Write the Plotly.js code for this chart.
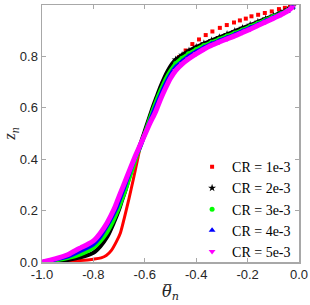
<!DOCTYPE html>
<html><head><meta charset="utf-8">
<script src="https://cdn.plot.ly/plotly-3.0.1.min.js"></script>
<style>html,body{margin:0;padding:0;background:#fff}#chart{width:310px;height:305px}</style>
</head><body><div id="chart"></div>
<script>
// series names
const seriesNames = ['CR = 1e-3', 'CR = 2e-3', 'CR = 3e-3', 'CR = 4e-3', 'CR = 5e-3'];

// CR = 1e-3 (red)
const thetaR = [-1, -0.95, -0.9, -0.85, -0.8, -0.77, -0.75, -0.73, -0.71, -0.695, -0.68, -0.662, -0.645, -0.63, -0.617, -0.6, -0.585, -0.57, -0.555, -0.54, -0.525, -0.51, -0.495, -0.48,
  -0.467, -0.441, -0.415, -0.389, -0.363, -0.337, -0.308, -0.281, -0.253, -0.230, -0.207, -0.185, -0.159, -0.133, -0.106, -0.078, -0.055, -0.035, -0.024];
const zR = [0, 0.001, 0.003, 0.006, 0.011, 0.016, 0.025, 0.045, 0.08, 0.113, 0.17, 0.245, 0.32, 0.39, 0.45, 0.50, 0.548, 0.592, 0.632, 0.668, 0.70, 0.728, 0.755, 0.778,
  0.797, 0.823, 0.848, 0.866, 0.883, 0.897, 0.911, 0.922, 0.932, 0.940, 0.947, 0.956, 0.962, 0.969, 0.975, 0.984, 0.989, 0.993, 0.996];
const upperStartR = 24;

// CR = 2e-3 (black)
const thetaK = [-1, -0.95, -0.9, -0.85, -0.8, -0.773, -0.745, -0.721, -0.7, -0.688, -0.675, -0.66, -0.645, -0.63, -0.617, -0.6, -0.585, -0.57, -0.555, -0.54, -0.525, -0.51, -0.495, -0.48,
  -0.455, -0.428, -0.40, -0.37, -0.34, -0.31, -0.28, -0.25, -0.22, -0.19, -0.16, -0.13, -0.10, -0.07, -0.045, -0.025];
const zK = [0, 0.003, 0.008, 0.018, 0.036, 0.061, 0.1, 0.152, 0.205, 0.242, 0.28, 0.33, 0.38, 0.425, 0.46, 0.51, 0.555, 0.6, 0.64, 0.68, 0.715, 0.745, 0.77, 0.787,
  0.805, 0.822, 0.836, 0.85, 0.862, 0.874, 0.886, 0.898, 0.91, 0.922, 0.934, 0.946, 0.958, 0.97, 0.981, 0.994];
const upperStartK = 23;

// CR = 3e-3 (green)
const thetaG = [-1, -0.95, -0.9, -0.85, -0.8, -0.775, -0.75, -0.725, -0.705, -0.69, -0.675, -0.66, -0.645, -0.63, -0.617, -0.6, -0.58, -0.56, -0.54, -0.52, -0.5, -0.48,
  -0.455, -0.43, -0.40, -0.37, -0.34, -0.31, -0.28, -0.25, -0.22, -0.19, -0.16, -0.13, -0.10, -0.07, -0.045, -0.025];
const zG = [0, 0.006, 0.015, 0.03, 0.055, 0.078, 0.11, 0.155, 0.2, 0.24, 0.28, 0.325, 0.37, 0.415, 0.45, 0.5, 0.56, 0.615, 0.665, 0.71, 0.745, 0.772,
  0.793, 0.81, 0.827, 0.842, 0.855, 0.867, 0.879, 0.891, 0.903, 0.916, 0.929, 0.942, 0.955, 0.967, 0.979, 0.993];
const upperStartG = 21;

// CR = 4e-3 (blue)
const thetaB = [-1, -0.95, -0.9, -0.85, -0.8, -0.775, -0.75, -0.725, -0.71, -0.695, -0.68, -0.66, -0.64, -0.617, -0.6, -0.58, -0.56, -0.54, -0.52, -0.5, -0.48,
  -0.455, -0.43, -0.40, -0.37, -0.34, -0.31, -0.28, -0.25, -0.22, -0.19, -0.16, -0.13, -0.10, -0.07, -0.045, -0.025];
const zB = [0, 0.009, 0.021, 0.043, 0.068, 0.095, 0.135, 0.18, 0.21, 0.25, 0.29, 0.345, 0.40, 0.45, 0.495, 0.548, 0.6, 0.648, 0.692, 0.73, 0.758,
  0.78, 0.80, 0.818, 0.835, 0.849, 0.861, 0.873, 0.885, 0.898, 0.911, 0.924, 0.938, 0.951, 0.965, 0.977, 0.992];
const upperStartB = 20;

// CR = 5e-3 (magenta)
const thetaM = [-1, -0.95, -0.9, -0.877, -0.85, -0.82, -0.8, -0.775, -0.747, -0.72, -0.708, -0.695, -0.682, -0.66, -0.64, -0.62, -0.6, -0.58, -0.558, -0.54, -0.52, -0.5, -0.48,
  -0.455, -0.43, -0.40, -0.37, -0.34, -0.31, -0.28, -0.25, -0.22, -0.19, -0.16, -0.13, -0.10, -0.07, -0.045, -0.025];
const zM = [0, 0.012, 0.028, 0.041, 0.055, 0.07, 0.082, 0.11, 0.152, 0.205, 0.235, 0.268, 0.30, 0.355, 0.405, 0.45, 0.495, 0.54, 0.585, 0.63, 0.675, 0.715, 0.745,
  0.77, 0.79, 0.81, 0.828, 0.843, 0.856, 0.868, 0.88, 0.893, 0.906, 0.92, 0.934, 0.948, 0.962, 0.976, 0.992];
const upperStartM = 22;

const xTickVals = [-1.0, -0.8, -0.6, -0.4, -0.2, 0.0];
const xTickText = ['-1.0', '-0.8', '-0.6', '-0.4', '-0.2', '0.0'];
const yTickVals = [0.0, 0.2, 0.4, 0.6, 0.8, 1.0];
const yTickText = ['0.0', '0.2', '0.4', '0.6', '0.8', '1.0'];

const series = [
  {x: thetaR, y: zR, up: upperStartR, color: '#ff0000', symbol: 'square', size: 4, lw: 3, lineAll: false},
  {x: thetaK, y: zK, up: upperStartK, color: '#000000', symbol: 'star', size: 6, lw: 4, lineAll: true},
  {x: thetaG, y: zG, up: upperStartG, color: '#00ff00', symbol: 'circle', size: 5, lw: 4, lineAll: true},
  {x: thetaB, y: zB, up: upperStartB, color: '#0000ff', symbol: 'triangle-up', size: 6, lw: 4, lineAll: true},
  {x: thetaM, y: zM, up: upperStartM, color: '#ff00ff', symbol: 'triangle-down', size: 6, lw: 5, lineAll: true}
];

const data = [];
series.forEach((s, i) => {
  const lineEnd = s.lineAll ? s.x.length : s.up + 1;
  data.push({
    x: s.x.slice(0, lineEnd), y: s.y.slice(0, lineEnd), mode: 'lines',
    line: {color: s.color, width: s.lw, shape: 'spline', smoothing: 0.8},
    showlegend: false, hoverinfo: 'skip'
  });
  data.push({
    x: s.x.slice(s.up), y: s.y.slice(s.up), mode: 'markers', name: seriesNames[i],
    marker: {color: s.color, symbol: s.symbol, size: s.size, line: {width: 0}}
  });
});

const axisCommon = {
  showline: true, linecolor: '#a8a8a8', linewidth: 1.5, mirror: 'ticks',
  ticks: 'inside', ticklen: 4, tickcolor: '#a8a8a8', tickwidth: 1,
  showgrid: false, zeroline: false,
  tickfont: {family: 'Liberation Sans, Arial, sans-serif', size: 13, color: '#262626'}
};

const layout = {
  width: 310, height: 305,
  margin: {l: 42, r: 11, t: 5, b: 43},
  paper_bgcolor: '#ffffff', plot_bgcolor: '#ffffff',
  xaxis: Object.assign({}, axisCommon, {
    range: [-1, 0], tickvals: xTickVals, ticktext: xTickText,
    title: {text: 'θ\u0305<sub>n</sub>', standoff: 4,
      font: {family: 'DejaVu Serif, serif', size: 16, color: '#262626', style: 'italic'}}
  }),
  yaxis: Object.assign({}, axisCommon, {
    range: [0, 1], tickvals: yTickVals, ticktext: yTickText,
    title: {text: '<i>z<sub>n</sub></i>', standoff: 6,
      font: {family: 'Liberation Serif, DejaVu Serif, serif', size: 17, color: '#262626'}}
  }),
  legend: {
    x: 0.584, xanchor: 'left', y: -0.02, yanchor: 'bottom',
    bgcolor: 'rgba(255,255,255,0)', borderwidth: 0,
    font: {family: 'Liberation Serif, DejaVu Serif, serif', size: 14, color: '#000'},
    itemwidth: 30, tracegroupgap: 0
  },
  showlegend: true
};

Plotly.newPlot('chart', data, layout, {staticPlot: true, displayModeBar: false});
</script>
</body></html>
